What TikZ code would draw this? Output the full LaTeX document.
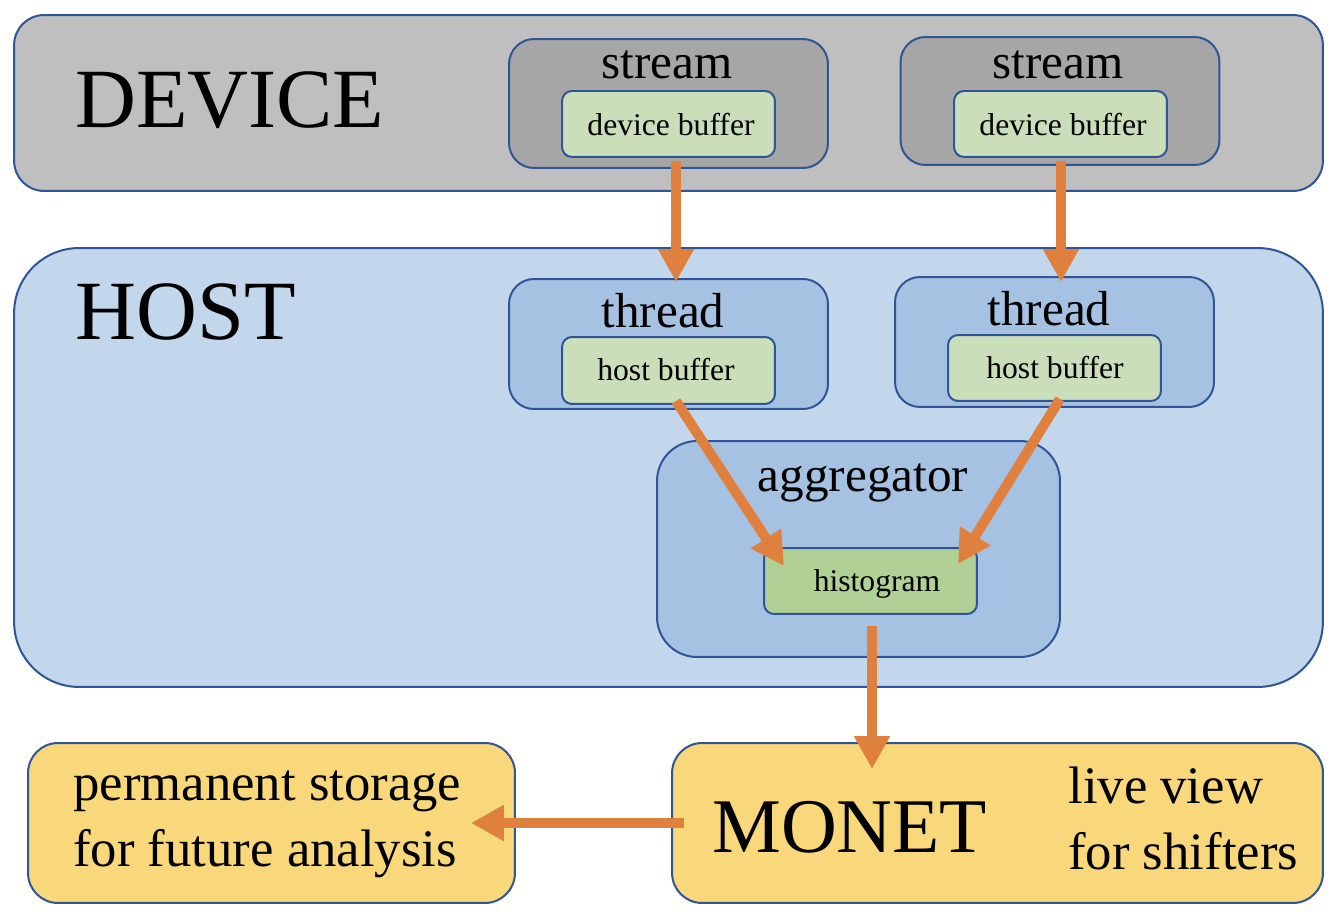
\documentclass[tikz,border=0pt]{standalone}
\usepackage{fontspec}
\setmainfont{Liberation Serif}
\usetikzlibrary{arrows.meta}

\definecolor{edgeblue}{HTML}{2F5597}
\definecolor{devgray}{HTML}{BFBFBF}
\definecolor{streamgray}{HTML}{A6A6A6}
\definecolor{hostblue}{HTML}{C3D7EC}
\definecolor{threadblue}{HTML}{A6C2E3}
\definecolor{bufgreen}{HTML}{CADFB9}
\definecolor{histgreen}{HTML}{B0D095}
\definecolor{outyellow}{HTML}{F8D87A}
\definecolor{floworange}{HTML}{E0803F}

\begin{document}
\begin{tikzpicture}[
        x=0.02cm, y=-0.02cm,
        box/.style={rectangle, draw=edgeblue, line width=0.04cm, inner sep=0pt},
        layer/.style={box, minimum width=26.18cm, rounded corners=0.6cm},
        unit/.style={box, minimum width=6.38cm, minimum height=2.6cm, rounded corners=0.5cm},
        buffer/.style={box, minimum width=4.26cm, minimum height=1.32cm, rounded corners=0.2cm, fill=bufgreen},
        output/.style={box, minimum height=3.2cm, rounded corners=0.6cm, fill=outyellow},
        bigtitle/.style={anchor=base west, inner sep=0pt, font=\fontsize{48}{56}\selectfont},
        title/.style={anchor=base, inner sep=0pt, font=\fontsize{28}{34}\selectfont},
        small/.style={anchor=base, inner sep=0pt, font=\fontsize{18}{22}\selectfont},
        note/.style={anchor=base west, inner sep=0pt, align=left, font=\fontsize{30}{37.5}\selectfont},
        flow/.style={floworange, line width=0.2cm, -{Triangle[width=0.68cm, length=0.66cm]}}
    ]
        \fill[white] (0,0) rectangle (1336,918);
        \useasboundingbox (0,0) rectangle (1336,918);

        % Device
        \node[layer, minimum height=3.52cm, fill=devgray] (device) at (668.5,103) {};
        \node[bigtitle] (devicetxt) at (75,128) {DEVICE};
        \node[unit, minimum height=2.58cm, fill=streamgray] (streamA) at (668.5,103.5) {};
        \node[unit, minimum height=2.56cm, fill=streamgray] (streamB) at (1060,101) {};
        \node[title] (streamAtxt) at (667,79) {stream};
        \node[title] (streamBtxt) at (1058,79) {stream};
        \node[buffer] (devbufA) at (668.5,124) {};
        \node[buffer] (devbufB) at (1060.5,124) {};
        \node[small] (devbufAtxt) at (671,136) {device buffer};
        \node[small] (devbufBtxt) at (1063,136) {device buffer};

        % Host
        \node[layer, minimum height=8.78cm, rounded corners=1.3cm, fill=hostblue] (host) at (668.5,467.5) {};
        \node[bigtitle] (hosttxt) at (75,340) {HOST};
        \node[unit, fill=threadblue] (threadA) at (668.5,344) {};
        \node[unit, fill=threadblue] (threadB) at (1054.5,342) {};
        \node[title] (threadAtxt) at (663,328) {thread};
        \node[title] (threadBtxt) at (1049,326) {thread};
        \node[buffer, minimum height=1.34cm] (hostbufA) at (668.5,370.5) {};
        \node[buffer] (hostbufB) at (1054.5,368) {};
        \node[small] (hostbufAtxt) at (666,381) {host buffer};
        \node[small] (hostbufBtxt) at (1055,379) {host buffer};

        % Aggregator
        \node[box, minimum width=8.06cm, minimum height=4.32cm, rounded corners=0.8cm, fill=threadblue] (aggr) at (858.5,549) {};
        \node[title] (aggrtxt) at (863,492) {aggregator};
        \node[buffer, fill=histgreen] (histo) at (870.5,581) {};
        \node[small] (histotxt) at (877,592) {histogram};

        % Outputs
        \node[output, minimum width=13.02cm] (monet) at (997.5,823) {};
        \node[output, minimum width=9.74cm] (storage) at (271.5,823) {};
        \node[bigtitle, font=\fontsize{44}{52}\selectfont] (monettxt) at (712,852) {MONET};
        \node[note] (livetxt) at (1068,869) {live view\\for shifters};
        \node[note] (storagetxt) at (73,866) {permanent storage\\for future analysis};

        % Data flow
        \coordinate (mtop) at (histo.south |- monet.north);
        \draw[flow] ([shift={(7.5,3)}]devbufA.south) -- ([shift={(7.5,4)}]threadA.north);
        \draw[flow] ([shift={(0.5,3)}]devbufB.south) -- ([shift={(6.5,6)}]threadB.north);
        \draw[flow] ([shift={(7.5,-4)}]hostbufA.south) -- ([shift={(21,19)}]histo.north west);
        \draw[flow] ([shift={(5.5,-3)}]hostbufB.south) -- ([shift={(-20,17)}]histo.north east);
        \draw[flow] ([shift={(1.5,11)}]histo.south) -- ([shift={(1.5,27)}]mtop);
        \draw[flow] ([shift={(13,0)}]monet.west) -- ([shift={(-45,0)}]storage.east);

    \end{tikzpicture}
\end{document}
